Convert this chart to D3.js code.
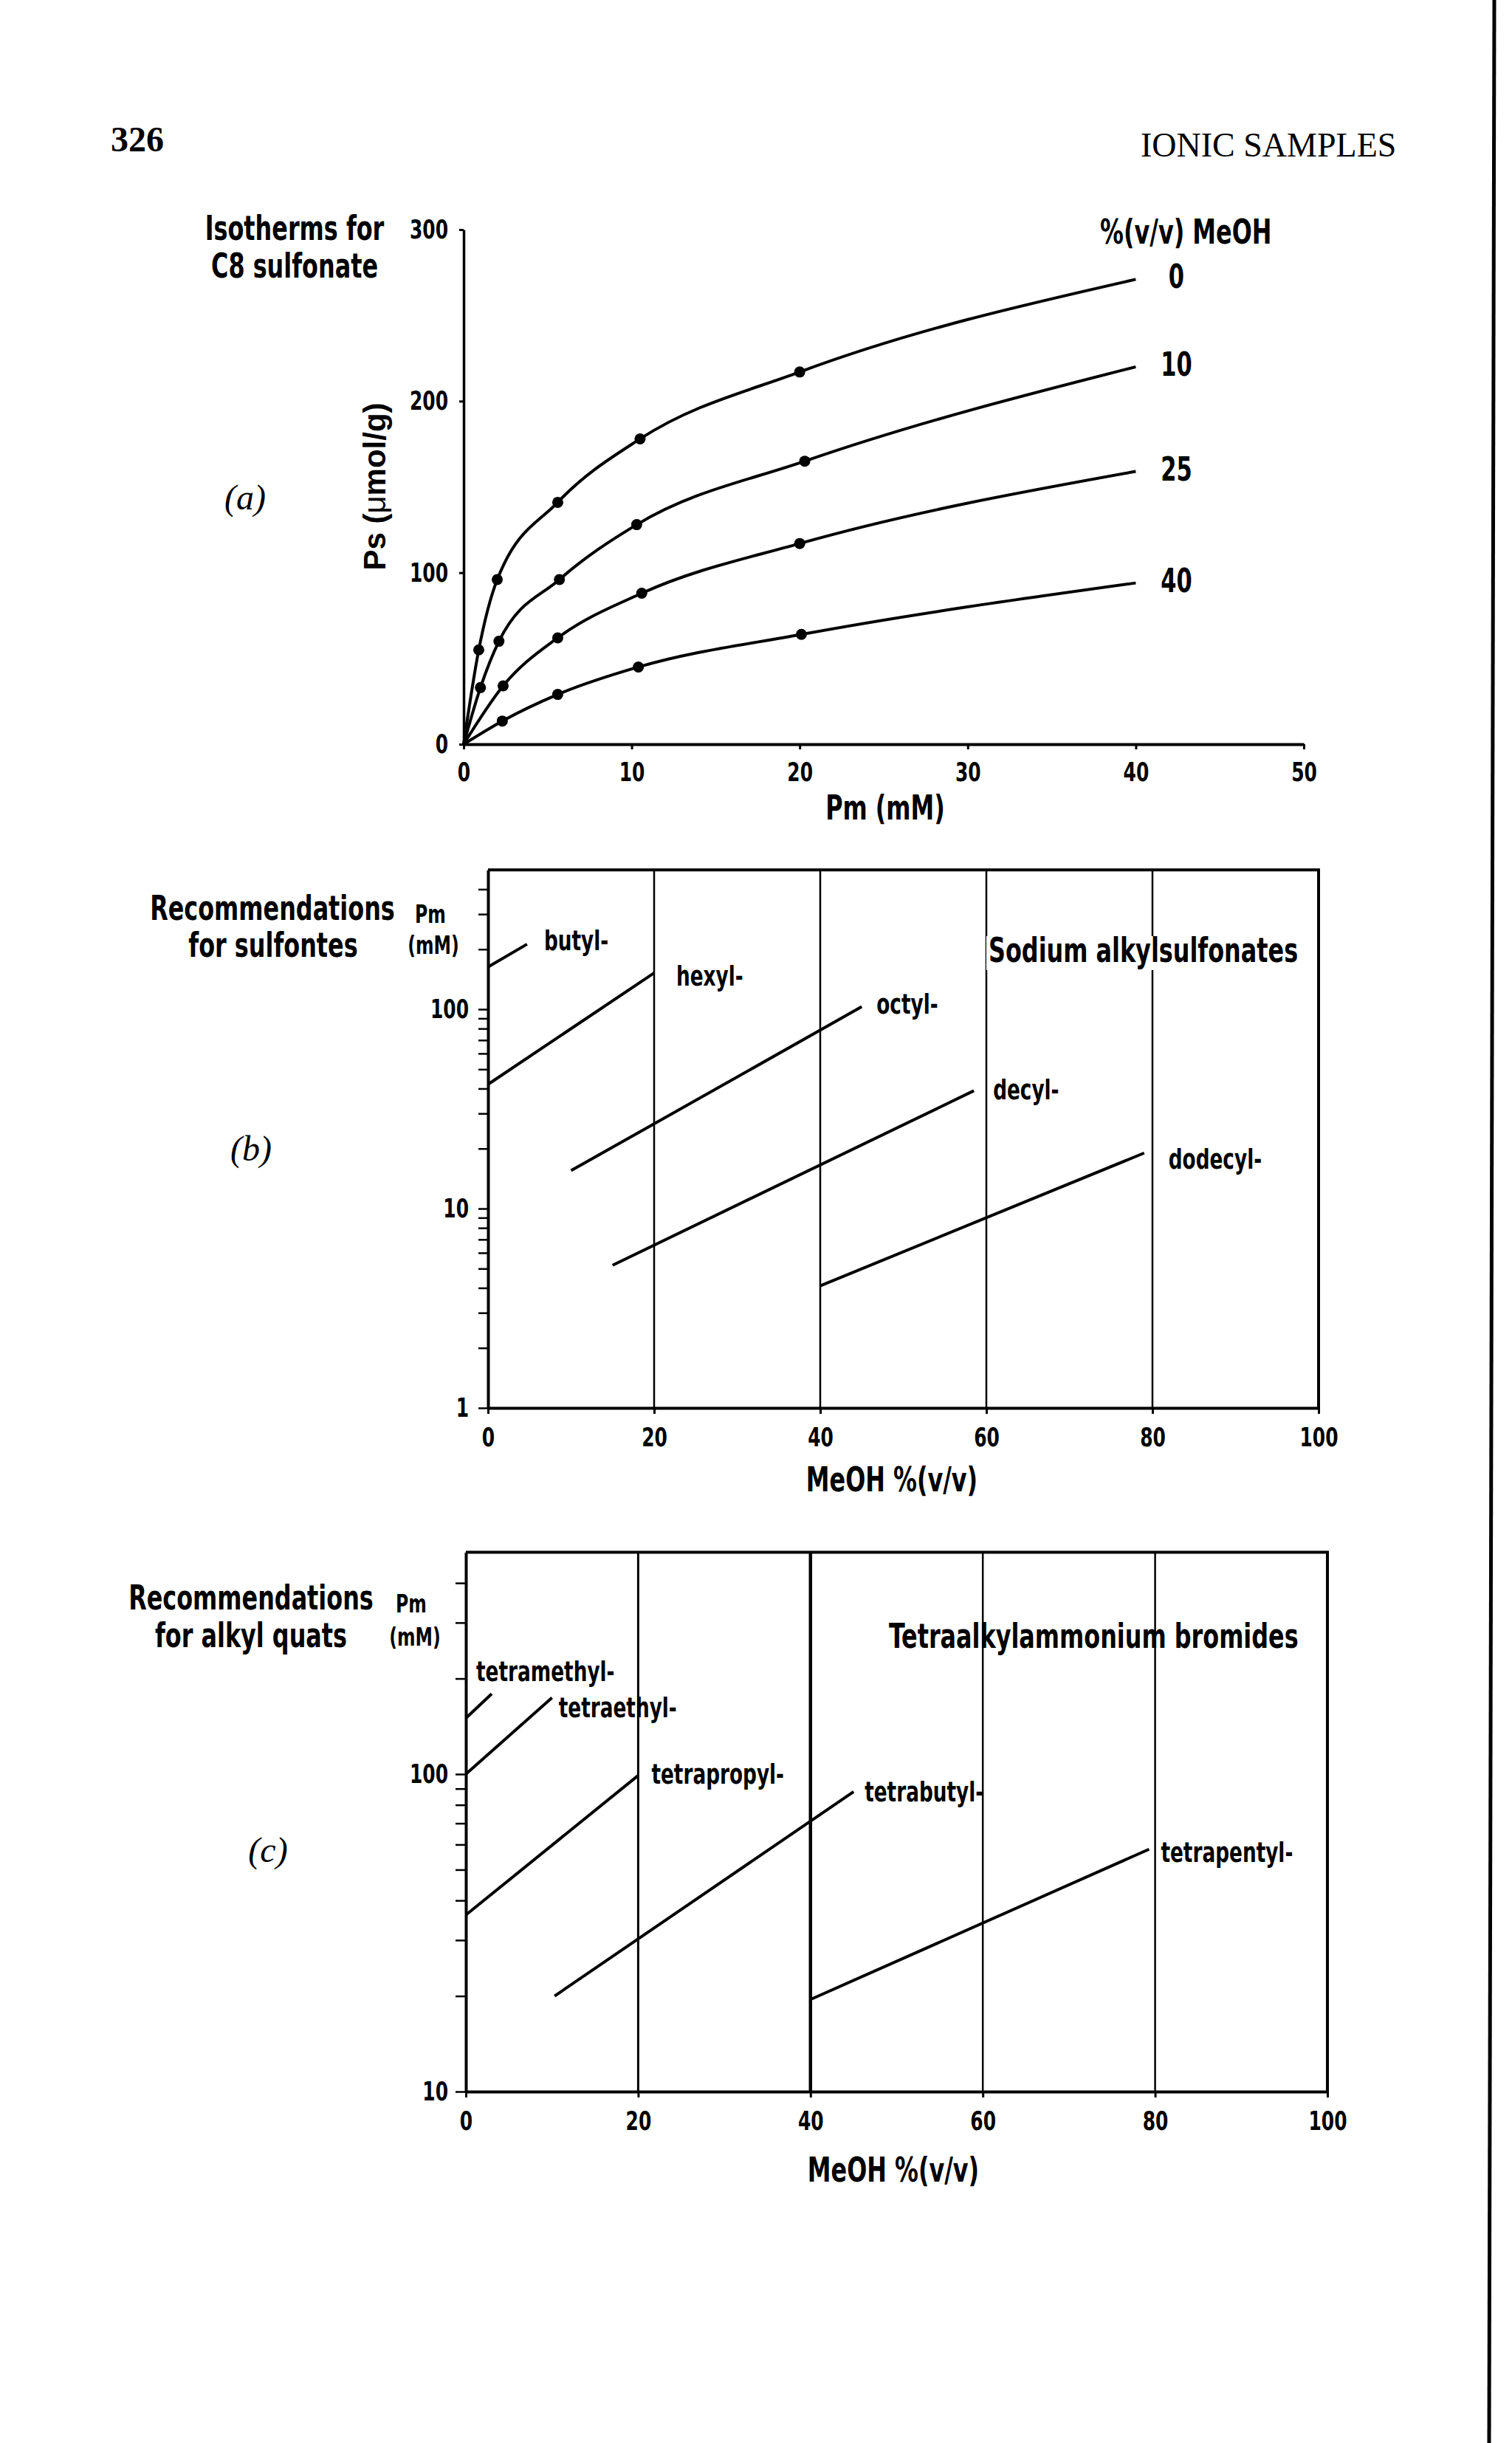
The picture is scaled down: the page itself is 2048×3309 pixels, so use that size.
<!DOCTYPE html>
<html>
<head>
<meta charset="utf-8">
<script src="https://cdn.jsdelivr.net/npm/d3@7/dist/d3.min.js"></script>
<style>
    body { margin: 0; background: #fff; }
    svg text { font-family: "Liberation Sans Narrow", "Arial Narrow", "DejaVu Sans Condensed", sans-serif; font-weight: bold; fill: #000; }
    svg .serif { font-family: "Liberation Serif", "DejaVu Serif", serif; }
</style>
</head>
<body>
<div id="page"></div>
<script>
'use strict';

// (a) isotherms for C8 sulfonate: Ps (umol/g) vs Pm (mM), one curve per %MeOH
var isoSeries = ["0", "10", "25", "40"];
var isoPm = [
    [0.9, 2.0, 5.6, 10.5, 20.0],
    [1.0, 2.1, 5.7, 10.3, 20.3],
    [2.35, 5.6, 10.6, 20.0],
    [2.3, 5.6, 10.4, 20.1]
];
var isoPs = [
    [55, 96, 141, 178, 217],
    [33, 60, 96, 128, 165],
    [34, 62, 88, 117],
    [13.5, 29, 45, 64]
];
var isoEndPm = 40;
var isoEndPs = [271, 220, 159, 94];
var isoXTicks = [0, 10, 20, 30, 40, 50];
var isoYTicks = [0, 100, 200, 300];

// (b) recommendations for sodium alkylsulfonates
var sulfNames = ["butyl-", "hexyl-", "octyl-", "decyl-", "dodecyl-"];
var sulfMeoh = [[0, 4.7], [0, 20], [10, 45], [15, 58.5], [40, 79]];
var sulfPm = [[163, 212], [42, 152], [15.5, 103], [5.2, 39], [4.1, 19]];
var sulfYTicks = [1, 2, 3, 4, 5, 6, 7, 8, 9, 10, 20, 30, 40, 50, 60, 70, 80, 90, 100, 200, 300, 400];
var sulfYLabels = [1, 10, 100];

// (c) recommendations for tetraalkylammonium bromides
var quatNames = ["tetramethyl-", "tetraethyl-", "tetrapropyl-", "tetrabutyl-", "tetrapentyl-"];
var quatMeoh = [[0, 3], [0, 10], [0, 20], [10.3, 45], [40, 79.3]];
var quatPm = [[150, 179], [100, 174], [36, 99], [20, 88], [19.5, 58]];
var quatYTicks = [10, 20, 30, 40, 50, 60, 70, 80, 90, 100, 200, 300, 400];
var quatYLabels = [10, 100];

var meohTicks = [0, 20, 40, 60, 80, 100];
var meohGrid = [20, 40, 60, 80];

// label nudges from the end of each line (layout only)
var sulfNudge = [[23, 8], [30, 17], [20, 9], [26, 12], [33, 21]];
var quatNudge = [[-21, -17], [9, 26], [18, 11], [15, 13], [16, 17]];

// the book face is a condensed bold; squeeze the installed sans to match
var squeeze = 0.77;


var svg = d3.select("#page")
    .append("svg")
    .attr("width", 2048)
    .attr("height", 3309)
    .style("background", "#fff");

var addText = function (x, y, str, size, anchor, k) {
    if (k === undefined) k = squeeze;
    return svg.append("text")
        .attr("transform", "translate(" + x + "," + y + ") scale(" + k + ",1)")
        .style("font-size", size + "px")
        .style("text-anchor", anchor || "start")
        .text(str);
};

var styleAxis = function (g, width, size) {
    g.selectAll("path.domain").style("stroke", "#000").style("stroke-width", width);
    g.selectAll(".tick line").style("stroke", "#000").style("stroke-width", 3);
    g.selectAll(".tick text")
        .style("font-size", size + "px")
        .attr("fill", "#000")
        .each(function () {
            var t = d3.select(this);
            var x0 = +t.attr("x") || 0;
            t.attr("x", x0 / squeeze).attr("transform", "scale(" + squeeze + ",1)");
        });
    return g;
};

// page header
addText(186, 205, "326", 48, "middle", 1).attr("class", "serif");
addText(1545, 212, "IONIC SAMPLES", 46, "start", 1).attr("class", "serif").style("font-weight", "normal");

// page edge from the scan
svg.append("line")
    .attr("x1", 2024).attr("y1", 0)
    .attr("x2", 2017).attr("y2", 3309)
    .style("stroke", "#000")
    .style("stroke-width", 5);


// ---------- panel (a) ----------
var isoX = d3.scaleLinear().domain([0, 50]).range([628, 1766]);
var isoY = d3.scaleLinear().domain([0, 300]).range([1008, 311]);

var isoXAxis = svg.append("g")
    .attr("transform", "translate(0," + isoY(0) + ")")
    .call(d3.axisBottom(isoX).tickValues(isoXTicks).tickSize(7).tickSizeOuter(0).tickPadding(17));
styleAxis(isoXAxis, 4, 36);

var isoYAxis = svg.append("g")
    .attr("transform", "translate(" + isoX(0) + ",0)")
    .call(d3.axisLeft(isoY).tickValues(isoYTicks).tickSize(6).tickSizeOuter(0).tickPadding(15));
styleAxis(isoYAxis, 3.5, 36);

var isoLine = d3.line()
    .x(function (d) { return isoX(d[0]); })
    .y(function (d) { return isoY(d[1]); })
    .curve(d3.curveMonotoneX);

isoSeries.forEach(function (name, i) {
    var pts = isoPm[i].map(function (p, j) { return [p, isoPs[i][j]]; });
    var curve = [[0, 0]].concat(pts).concat([[isoEndPm, isoEndPs[i]]]);

    svg.append("path")
        .datum(curve)
        .attr("d", isoLine)
        .style("fill", "none")
        .style("stroke", "#000")
        .style("stroke-width", 4);

    svg.selectAll(null)
        .data(pts)
        .enter()
        .append("circle")
        .attr("cx", function (d) { return isoX(d[0]); })
        .attr("cy", function (d) { return isoY(d[1]); })
        .attr("r", 7.5)
        .style("fill", "#000");

    addText(isoX(isoEndPm) + 55, isoY(isoEndPs[i]) + 12, name, 44, "middle");
});

addText(1490, 330, "%(v/v) MeOH", 46);
addText(399, 325, "Isotherms for", 46, "middle");
addText(399, 376, "C8 sulfonate", 46, "middle");
addText(1199, 1110, "Pm (mM)", 46, "middle");

var psLabel = svg.append("text")
    .attr("transform", "translate(522,659) rotate(-90)")
    .style("font-family", "'Liberation Sans', Arial, sans-serif")
    .style("font-size", "42px")
    .style("text-anchor", "middle");
psLabel.append("tspan").text("Ps (");
psLabel.append("tspan").style("font-weight", "normal").text("\u03bc");
psLabel.append("tspan").text("mol/g)");

addText(332, 690, "(a)", 48, "middle", 1).attr("class", "serif").style("font-style", "italic").style("font-weight", "normal");


// ---------- log panels (b) and (c) ----------
var drawLogPanel = function (opt) {
    var x = d3.scaleLinear().domain([0, 100]).range(opt.xRange);
    var y = d3.scaleLog().domain(opt.yDomain).range(opt.yRange);

    // vertical guide lines
    svg.selectAll(null)
        .data(meohGrid)
        .enter()
        .append("line")
        .attr("x1", function (d) { return x(d); })
        .attr("x2", function (d) { return x(d); })
        .attr("y1", y(opt.yDomain[0]))
        .attr("y2", y(opt.yDomain[1]))
        .style("stroke", "#000")
        .style("stroke-width", function (d, i) { return opt.gridWidth[i]; });

    var xAxis = svg.append("g")
        .attr("transform", "translate(0," + y(opt.yDomain[0]) + ")")
        .call(d3.axisBottom(x).tickValues(meohTicks).tickSize(8).tickSizeOuter(0).tickPadding(18));
    styleAxis(xAxis, 4, 36);

    var yAxis = svg.append("g")
        .attr("transform", "translate(" + x(0) + ",0)")
        .call(d3.axisLeft(y).tickValues(opt.yTicks).tickSize(opt.tickLen).tickSizeOuter(0)
            .tickPadding(opt.tickPad)
            .tickFormat(function (d) { return opt.yLabels.indexOf(d) >= 0 ? d : ""; }));
    styleAxis(yAxis, 4, 36);
    yAxis.selectAll(".tick line").style("stroke-width", 2.5);

    // frame top and right
    svg.append("path")
        .attr("d", "M" + x(0) + "," + y(opt.yDomain[1]) + "H" + x(100) + "V" + y(opt.yDomain[0]))
        .style("fill", "none")
        .style("stroke", "#000")
        .style("stroke-width", 4);

    opt.names.forEach(function (name, i) {
        var mx = opt.meoh[i];
        var pm = opt.pm[i];
        svg.append("line")
            .attr("x1", x(mx[0]))
            .attr("y1", y(pm[0]))
            .attr("x2", x(mx[1]))
            .attr("y2", y(pm[1]))
            .style("stroke", "#000")
            .style("stroke-width", 4);
        addText(x(mx[1]) + opt.nudge[i][0], y(pm[1]) + opt.nudge[i][1], name, 38);
    });

    return {x: x, y: y};
};

drawLogPanel({
    xRange: [661, 1786],
    yDomain: [1, 500],
    yRange: [1907, 1907 - Math.log10(500) * 270],
    yTicks: sulfYTicks,
    yLabels: sulfYLabels,
    tickLen: 13,
    tickPad: 13,
    gridWidth: [2.5, 2.5, 2.5, 2.5],
    names: sulfNames,
    meoh: sulfMeoh,
    pm: sulfPm,
    nudge: sulfNudge
});

svg.append("rect")
    .attr("x", 1336).attr("y", 1268)
    .attr("width", 412).attr("height", 46)
    .style("fill", "#fff");
addText(1339, 1303, "Sodium alkylsulfonates", 46);
addText(369, 1246, "Recommendations", 46, "middle");
addText(370, 1296, "for sulfontes", 46, "middle");
addText(583, 1250, "Pm", 34, "middle");
addText(587, 1292, "(mM)", 34, "middle");
addText(1208, 2020, "MeOH %(v/v)", 46, "middle");
addText(340, 1572, "(b)", 48, "middle", 1).attr("class", "serif").style("font-style", "italic").style("font-weight", "normal");

drawLogPanel({
    xRange: [631, 1798],
    yDomain: [10, 500],
    yRange: [2833, 2833 - Math.log10(50) * 430],
    yTicks: quatYTicks,
    yLabels: quatYLabels,
    tickLen: 14,
    tickPad: 10,
    gridWidth: [3, 4.5, 2.5, 2.5],
    names: quatNames,
    meoh: quatMeoh,
    pm: quatPm,
    nudge: quatNudge
});

addText(1204, 2232, "Tetraalkylammonium bromides", 46);
addText(340, 2180, "Recommendations", 46, "middle");
addText(340, 2231, "for alkyl quats", 46, "middle");
addText(557, 2184, "Pm", 34, "middle");
addText(562, 2229, "(mM)", 34, "middle");
addText(1210, 2955, "MeOH %(v/v)", 46, "middle");
addText(363, 2522, "(c)", 48, "middle", 1).attr("class", "serif").style("font-style", "italic").style("font-weight", "normal");
</script>
</body>
</html>
